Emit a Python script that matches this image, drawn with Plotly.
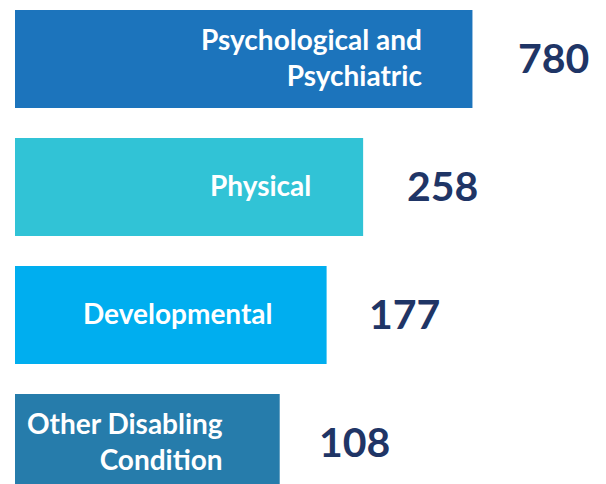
import numpy as np
import plotly.graph_objects as go

categories = ["Psychological and<br>Psychiatric", "Physical", "Developmental", "Other Disabling<br>Condition"]
values = [780, 258, 177, 108]
value_labels = ["780", "258", "177", "108"]
bar_colors = ["#1c74bc", "#31c3d6", "#00aeef", "#267cab"]

NAVY = "#1f3566"
FONT = "Lato, 'Open Sans', sans-serif"

# log axis geometry (px per decade / start of bars)
L0 = 0.925
PPD = 232.0
x0 = L0 - 7 / PPD
x1 = x0 + 606 / PPD

fig = go.Figure()
fig.add_trace(go.Bar(
    x=values, y=categories, orientation="h",
    base=[10 ** L0] * len(values),
    marker=dict(color=bar_colors, line=dict(width=0)),
    hoverinfo="skip",
))

for cat, v, lab in zip(categories, values, value_labels):
    fig.add_annotation(
        x=np.log10(v), y=cat, xref="x", yref="y",
        text=lab, showarrow=False, xanchor="left", yanchor="middle",
        xshift=45, yshift=1, font=dict(family=FONT, size=41, color=NAVY, weight="bold"),
    )
    fig.add_annotation(
        x=np.log10(v), y=cat, xref="x", yref="y",
        text=cat, showarrow=False, xanchor="right", yanchor="middle",
        align="right", xshift=-47, yshift=2,
        font=dict(family=FONT, size=28, color="white", weight="bold"),
    )

fig.update_layout(
    width=606, height=484,
    margin=dict(l=0, r=0, t=0, b=0),
    paper_bgcolor="white", plot_bgcolor="white",
    bargap=0.234, showlegend=False,
    xaxis=dict(type="log", range=[x0, x1], visible=False, fixedrange=True),
    yaxis=dict(categoryorder="array", categoryarray=categories,
               range=[3.383, -0.398], visible=False, fixedrange=True),
)

fig.write_html("out.html", config={"displayModeBar": False})
